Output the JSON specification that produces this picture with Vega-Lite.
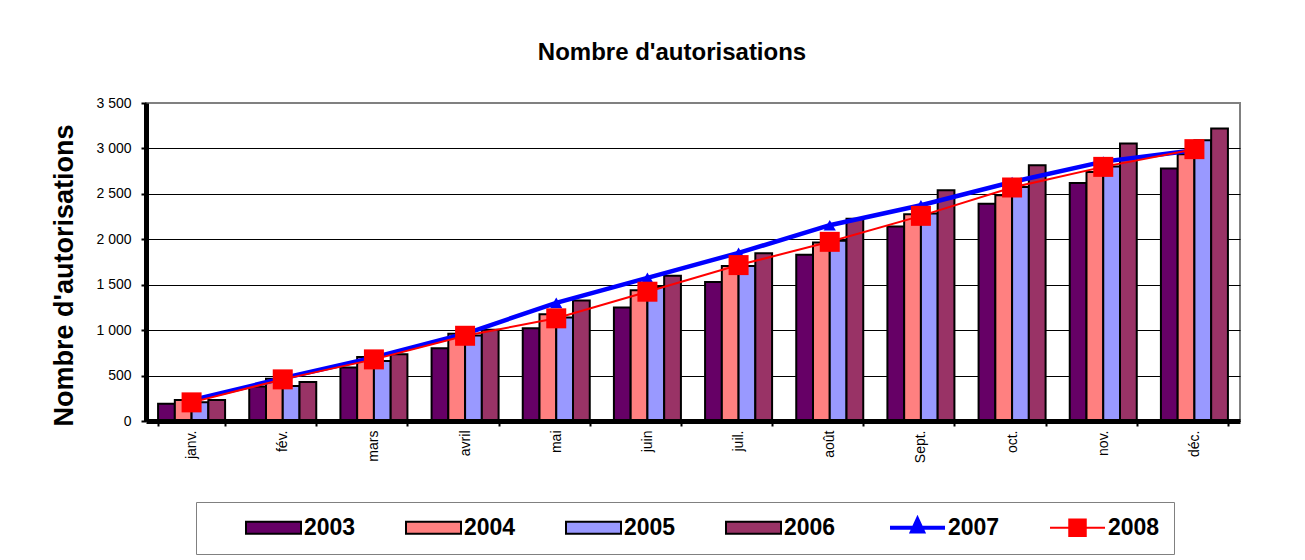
{
  "$schema": "https://vega.github.io/schema/vega-lite/v6.json",
  "width": 1094,
  "height": 318,
  "autosize": {"type": "none"},
  "padding": {"left": 146, "top": 103, "right": 65, "bottom": 139},
  "background": "white",
  "config": {
    "font": "Liberation Sans",
    "view": {"stroke": "#808080", "strokeWidth": 2}
  },
  "title": {
    "text": "Nombre d'autorisations",
    "fontSize": 24,
    "font": "Liberation Sans",
    "fontWeight": "bold",
    "color": "black",
    "anchor": "middle",
    "frame": "group",
    "offset": 31,
    "dx": -21
  },
  "data": {
    "values": [
      {"month": "janv.", "year": "2003", "value": 190},
      {"month": "fév.", "year": "2003", "value": 380},
      {"month": "mars", "year": "2003", "value": 590},
      {"month": "avril", "year": "2003", "value": 800},
      {"month": "mai", "year": "2003", "value": 1020},
      {"month": "juin", "year": "2003", "value": 1250},
      {"month": "juil.", "year": "2003", "value": 1530},
      {"month": "août", "year": "2003", "value": 1830},
      {"month": "Sept.", "year": "2003", "value": 2140},
      {"month": "oct.", "year": "2003", "value": 2390},
      {"month": "nov.", "year": "2003", "value": 2620},
      {"month": "déc.", "year": "2003", "value": 2780},
      {"month": "janv.", "year": "2004", "value": 230},
      {"month": "fév.", "year": "2004", "value": 465},
      {"month": "mars", "year": "2004", "value": 705},
      {"month": "avril", "year": "2004", "value": 960},
      {"month": "mai", "year": "2004", "value": 1175},
      {"month": "juin", "year": "2004", "value": 1440},
      {"month": "juil.", "year": "2004", "value": 1705},
      {"month": "août", "year": "2004", "value": 1965},
      {"month": "Sept.", "year": "2004", "value": 2275},
      {"month": "oct.", "year": "2004", "value": 2485},
      {"month": "nov.", "year": "2004", "value": 2740},
      {"month": "déc.", "year": "2004", "value": 2935},
      {"month": "janv.", "year": "2005", "value": 205},
      {"month": "fév.", "year": "2005", "value": 385},
      {"month": "mars", "year": "2005", "value": 660},
      {"month": "avril", "year": "2005", "value": 940},
      {"month": "mai", "year": "2005", "value": 1140},
      {"month": "juin", "year": "2005", "value": 1475},
      {"month": "juil.", "year": "2005", "value": 1705},
      {"month": "août", "year": "2005", "value": 1985},
      {"month": "Sept.", "year": "2005", "value": 2285},
      {"month": "oct.", "year": "2005", "value": 2575},
      {"month": "nov.", "year": "2005", "value": 2800},
      {"month": "déc.", "year": "2005", "value": 3090},
      {"month": "janv.", "year": "2006", "value": 230},
      {"month": "fév.", "year": "2006", "value": 430},
      {"month": "mars", "year": "2006", "value": 735},
      {"month": "avril", "year": "2006", "value": 1005},
      {"month": "mai", "year": "2006", "value": 1325},
      {"month": "juin", "year": "2006", "value": 1600},
      {"month": "juil.", "year": "2006", "value": 1845},
      {"month": "août", "year": "2006", "value": 2225},
      {"month": "Sept.", "year": "2006", "value": 2540},
      {"month": "oct.", "year": "2006", "value": 2815},
      {"month": "nov.", "year": "2006", "value": 3055},
      {"month": "déc.", "year": "2006", "value": 3220},
      {"month": "janv.", "year": "2007", "value": 230},
      {"month": "fév.", "year": "2007", "value": 470},
      {"month": "mars", "year": "2007", "value": 700},
      {"month": "avril", "year": "2007", "value": 960},
      {"month": "mai", "year": "2007", "value": 1300},
      {"month": "juin", "year": "2007", "value": 1575},
      {"month": "juil.", "year": "2007", "value": 1850},
      {"month": "août", "year": "2007", "value": 2155},
      {"month": "Sept.", "year": "2007", "value": 2375},
      {"month": "oct.", "year": "2007", "value": 2630},
      {"month": "nov.", "year": "2007", "value": 2855},
      {"month": "déc.", "year": "2007", "value": 2980},
      {"month": "janv.", "year": "2008", "value": 205},
      {"month": "fév.", "year": "2008", "value": 458},
      {"month": "mars", "year": "2008", "value": 678},
      {"month": "avril", "year": "2008", "value": 938},
      {"month": "mai", "year": "2008", "value": 1130},
      {"month": "juin", "year": "2008", "value": 1423},
      {"month": "juil.", "year": "2008", "value": 1716},
      {"month": "août", "year": "2008", "value": 1972},
      {"month": "Sept.", "year": "2008", "value": 2258},
      {"month": "oct.", "year": "2008", "value": 2570},
      {"month": "nov.", "year": "2008", "value": 2797},
      {"month": "déc.", "year": "2008", "value": 2992}
    ]
  },
  "encoding": {
    "x": {
      "field": "month",
      "type": "nominal",
      "sort": ["janv.", "fév.", "mars", "avril", "mai", "juin", "juil.", "août", "Sept.", "oct.", "nov.", "déc."],
      "scale": {"paddingInner": 0.265, "paddingOuter": 0.1325},
      "axis": {
        "title": null,
        "labelAngle": -90,
        "labelFont": "Liberation Sans",
        "labelFontSize": 14,
        "labelColor": "black",
        "labelPadding": 4,
        "domainColor": "black",
        "domainWidth": 5,
        "tickBand": "extent",
        "tickColor": "black",
        "tickWidth": 2,
        "tickSize": 5,
        "grid": false,
        "zindex": 1
      }
    },
    "y": {
      "field": "value",
      "type": "quantitative",
      "scale": {"domain": [0, 3500], "nice": false},
      "axis": {
        "title": "Nombre d'autorisations",
        "titleFont": "Liberation Sans",
        "titleFontSize": 27,
        "titleFontWeight": "bold",
        "titleColor": "black",
        "titleAngle": -90,
        "titleX": -82,
        "titleY": 172,
        "titleAlign": "center",
        "titleBaseline": "middle",
        "values": [0, 500, 1000, 1500, 2000, 2500, 3000, 3500],
        "labelExpr": "replace(format(datum.value, ','), ',', ' ')",
        "labelFont": "Liberation Sans",
        "labelFontSize": 14,
        "labelColor": "black",
        "labelPadding": 10,
        "domainColor": "black",
        "domainWidth": 5,
        "tickColor": "black",
        "tickWidth": 2,
        "tickSize": 5,
        "grid": true,
        "gridColor": {"condition": {"test": "datum.value >= 3500", "value": "#808080"}, "value": "black"},
        "gridWidth": 1
      }
    }
  },
  "layer": [
    {
      "transform": [{"filter": "datum.year <= '2006'"}],
      "mark": {"type": "bar", "stroke": "black", "strokeWidth": 2},
      "encoding": {
        "xOffset": {"field": "year", "type": "nominal", "scale": {"paddingInner": 0, "paddingOuter": 0}},
        "color": {
          "field": "year",
          "type": "nominal",
          "scale": {
            "domain": ["2003", "2004", "2005", "2006", "2007", "2008"],
            "range": ["#660066", "#FF8080", "#9999FF", "#993366", "#0000FF", "#FF0000"]
          },
          "legend": {
            "title": " ",
            "titleOrient": "left",
            "titlePadding": 52,
            "orient": "none",
            "legendX": 50,
            "legendY": 399,
            "direction": "horizontal",
            "columns": 6,
            "padding": 14,
            "strokeColor": "#808080",
            "fillColor": "white",
            "symbolSize": 3025,
            "symbolStrokeWidth": 2,
            "symbolStrokeColor": "black",
            "labelFont": "Liberation Sans",
            "labelFontSize": 23,
            "labelFontWeight": "bold",
            "labelColor": "black",
            "labelOffset": 19,
            "columnPadding": 46,
            "labelExpr": "datum.value == '2008' ? datum.label + '        ' : datum.label",
            "encode": {
              "symbols": {
                "update": {
                  "shape": {"signal": "datum.value <= '2006' ? 'M-1,-0.22H1V0.22H-1Z' : (datum.value == '2007' ? 'M-1,0H1M0,-0.3L0.2,0.14L-0.2,0.14Z' : 'M-1,0H1M-0.3,-0.3H0.3V0.3H-0.3Z')"},
                  "stroke": {"signal": "datum.value <= '2006' ? '#000000' : (datum.value == '2007' ? '#0000FF' : '#FF0000')"},
                  "fill": {"signal": "datum.value == '2003' ? '#660066' : datum.value == '2004' ? '#FF8080' : datum.value == '2005' ? '#9999FF' : datum.value == '2006' ? '#993366' : datum.value == '2007' ? '#0000FF' : '#FF0000'"},
                  "strokeWidth": {"signal": "datum.value == '2007' ? 4 : 2"},
                  "strokeOpacity": {"value": 1},
                  "fillOpacity": {"value": 1},
                  "opacity": {"value": 1}
                }
              }
            }
          }
        }
      }
    },
    {
      "transform": [{"filter": "datum.year >= '2007'"}],
      "mark": {"type": "line"},
      "encoding": {
        "stroke": {"field": "year", "type": "nominal", "scale": {"domain": ["2007", "2008"], "range": ["#0000FF", "#FF0000"]}, "legend": null},
        "strokeWidth": {"condition": {"test": "datum.year == '2007'", "value": 4.5}, "value": 2}
      }
    },
    {
      "transform": [{"filter": "datum.year >= '2007'"}],
      "mark": {"type": "point", "filled": true, "opacity": 1, "strokeWidth": 0},
      "encoding": {
        "fill": {"field": "year", "type": "nominal", "scale": {"domain": ["2007", "2008"], "range": ["#0000FF", "#FF0000"]}, "legend": null},
        "shape": {"field": "year", "type": "nominal", "scale": {"domain": ["2007", "2008"], "range": ["triangle-up", "square"]}, "legend": null},
        "size": {"field": "year", "type": "nominal", "scale": {"domain": ["2007", "2008"], "range": [150, 400]}, "legend": null}
      }
    }
  ]
}
